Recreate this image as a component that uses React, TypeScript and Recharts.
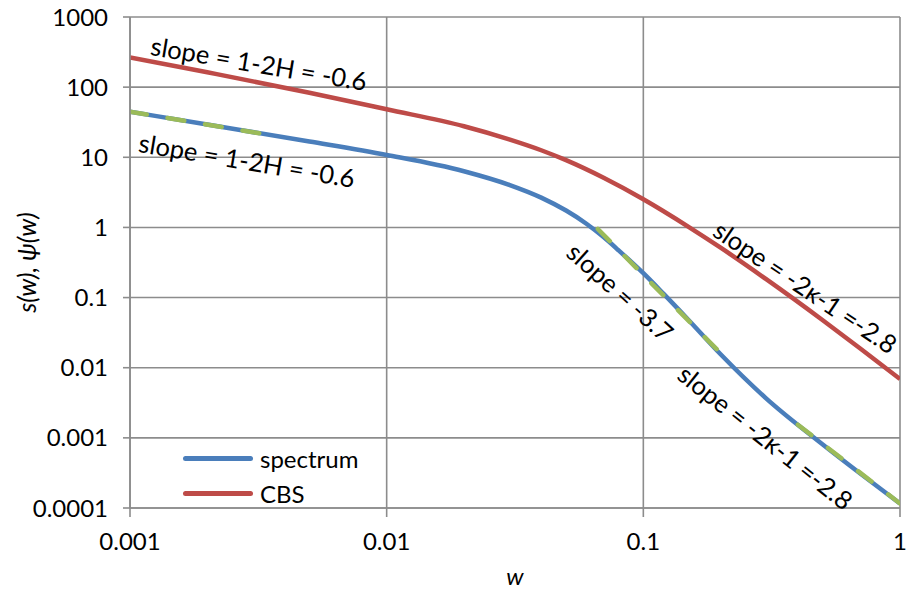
import { LineChart, Line, XAxis, YAxis, CartesianGrid, Legend, ReferenceDot } from "recharts";

const FONT = "Lato, 'Open Sans', sans-serif";
const GRID = "#8c8c8c";

const xTicks = [0.001, 0.01, 0.1, 1];
const yTicks = [0.0001, 0.001, 0.01, 0.1, 1, 10, 100, 1000];
const legendOrder = ["spectrum", "CBS"];

// spectrum s(w)
const spectrumW = [0.001, 0.002, 0.005, 0.01, 0.02, 0.03, 0.04, 0.05, 0.06, 0.07, 0.08, 0.1, 0.12, 0.15, 0.2, 0.3, 0.5, 0.7, 1];
const spectrumS = [44.6, 29.3, 16.8, 10.8, 6.33, 4.05, 2.66, 1.74, 1.13, 0.728, 0.473, 0.2225, 0.1128, 0.0479, 0.01553, 0.003686, 0.000804, 0.00031, 0.000116];

// CBS psi(w)
const cbsW = [0.001, 0.002, 0.005, 0.01, 0.02, 0.03, 0.04, 0.05, 0.07, 0.1, 0.15, 0.2, 0.3, 0.5, 0.7, 1];
const cbsPsi = [266, 162.8, 83.3, 48.3, 27.7, 18.0, 12.6, 9.09, 5.1, 2.52, 1.02, 0.514, 0.1846, 0.04755, 0.01878, 0.0069];

// asymptote segments (green dashed)
const lowW = [0.001, 0.0035];
const lowS = [44.6, 20.8];
const midW = [0.0665, 0.204];
const midS = [0.95, 0.01498];
const highW = [0.4, 1];
const highS = [0.00154, 0.000116];

const toRows = (ws: number[], vs: number[]) => ws.map((w, i) => ({ w, v: vs[i] }));

const notes = [
  { w: 0.00318, v: 221, angle: 9.5, text: "slope = 1-2H = -0.6" },
  { w: 0.002857, v: 9.15, angle: 9.5, text: "slope = 1-2H = -0.6" },
  { w: 0.0816, v: 0.1212, angle: 42, text: "slope = -3.7" },
  { w: 0.4288, v: 0.1429, angle: 34, text: "slope = -2\u03BA-1 =-2.8" },
  { w: 0.3, v: 0.00103, angle: 38.5, text: "slope = -2\u03BA-1 =-2.8" },
];

function LegendBox(props: any) {
  const items = (props.payload || [])
    .filter((p: any) => legendOrder.includes(p.value))
    .sort((a: any, b: any) => legendOrder.indexOf(a.value) - legendOrder.indexOf(b.value));
  return (
    <div style={{ fontFamily: FONT, fontSize: 24 }}>
      {items.map((p: any) => (
        <div key={p.value} style={{ display: "flex", alignItems: "center", height: 35 }}>
          <span style={{ width: 70, height: 5, borderRadius: 3, background: p.color, marginRight: 7 }} />
          <span style={{ color: "#000" }}>{p.value}</span>
        </div>
      ))}
    </div>
  );
}

const dashProps = {
  legendType: "none" as const,
  type: "linear" as const,
  stroke: "#9bbb59",
  strokeWidth: 4.5,
  strokeDasharray: "17 21",
  strokeLinecap: "round" as const,
  dot: false,
  activeDot: false,
  isAnimationActive: false,
};

export default function App() {
  return (
    <div style={{ position: "absolute", left: 0, top: 0, width: 915, height: 591, background: "#fff" }}>
      <LineChart width={915} height={591} margin={{ top: 17, right: 15, bottom: 0, left: 0 }}>
        <CartesianGrid stroke={GRID} strokeWidth={1.6} />
        <XAxis
          dataKey="w"
          type="number"
          scale="log"
          domain={[0.001, 1]}
          ticks={xTicks}
          tickFormatter={(v: number) => String(v)}
          height={83}
          tickSize={9}
          tickMargin={16}
          stroke={GRID}
          strokeWidth={1.6}
          tick={{ fill: "#000", fontSize: 24, fontFamily: FONT }}
          allowDataOverflow
          label={{ value: "w", position: "insideBottom", offset: 6, fill: "#000", fontSize: 24, fontFamily: FONT, fontStyle: "italic" }}
        />
        <YAxis
          dataKey="v"
          type="number"
          scale="log"
          domain={[0.0001, 1000]}
          ticks={yTicks}
          tickFormatter={(v: number) => String(v)}
          width={130}
          tickSize={7}
          tickMargin={15}
          stroke={GRID}
          strokeWidth={1.6}
          tick={{ fill: "#000", fontSize: 24, fontFamily: FONT }}
          allowDataOverflow
          label={{ value: "s(w), \u03C8(w)", angle: -90, position: "insideLeft", offset: 27, fill: "#000", fontSize: 25, fontFamily: FONT, fontStyle: "italic", style: { textAnchor: "middle" } }}
        />
        <Legend
          content={LegendBox}
          layout="horizontal"
          verticalAlign="middle"
          align="center"
          wrapperStyle={{ left: 183, top: 441, width: "auto" }}
        />
        <Line data={toRows(spectrumW, spectrumS)} dataKey="v" name="spectrum" type="monotone" stroke="#4a7ebb" strokeWidth={4.5} dot={false} activeDot={false} isAnimationActive={false} />
        <Line data={toRows(cbsW, cbsPsi)} dataKey="v" name="CBS" type="monotone" stroke="#be4b48" strokeWidth={4.5} dot={false} activeDot={false} isAnimationActive={false} />
        <Line data={toRows(lowW, lowS)} dataKey="v" name="low" {...dashProps} />
        <Line data={toRows(midW, midS)} dataKey="v" name="mid" {...dashProps} />
        <Line data={toRows(highW, highS)} dataKey="v" name="high" {...dashProps} />
        {notes.map((n, i) => (
          <ReferenceDot
            key={i}
            x={n.w}
            y={n.v}
            r={0}
            ifOverflow="visible"
            shape={(p: any) => (
              <text
                x={p.cx}
                y={p.cy}
                textAnchor="middle"
                dominantBaseline="central"
                transform={`rotate(${n.angle} ${p.cx} ${p.cy})`}
                fill="#000"
                fontSize={25.5}
                fontFamily={FONT}
              >
                {n.text}
              </text>
            )}
          />
        ))}
      </LineChart>
    </div>
  );
}
